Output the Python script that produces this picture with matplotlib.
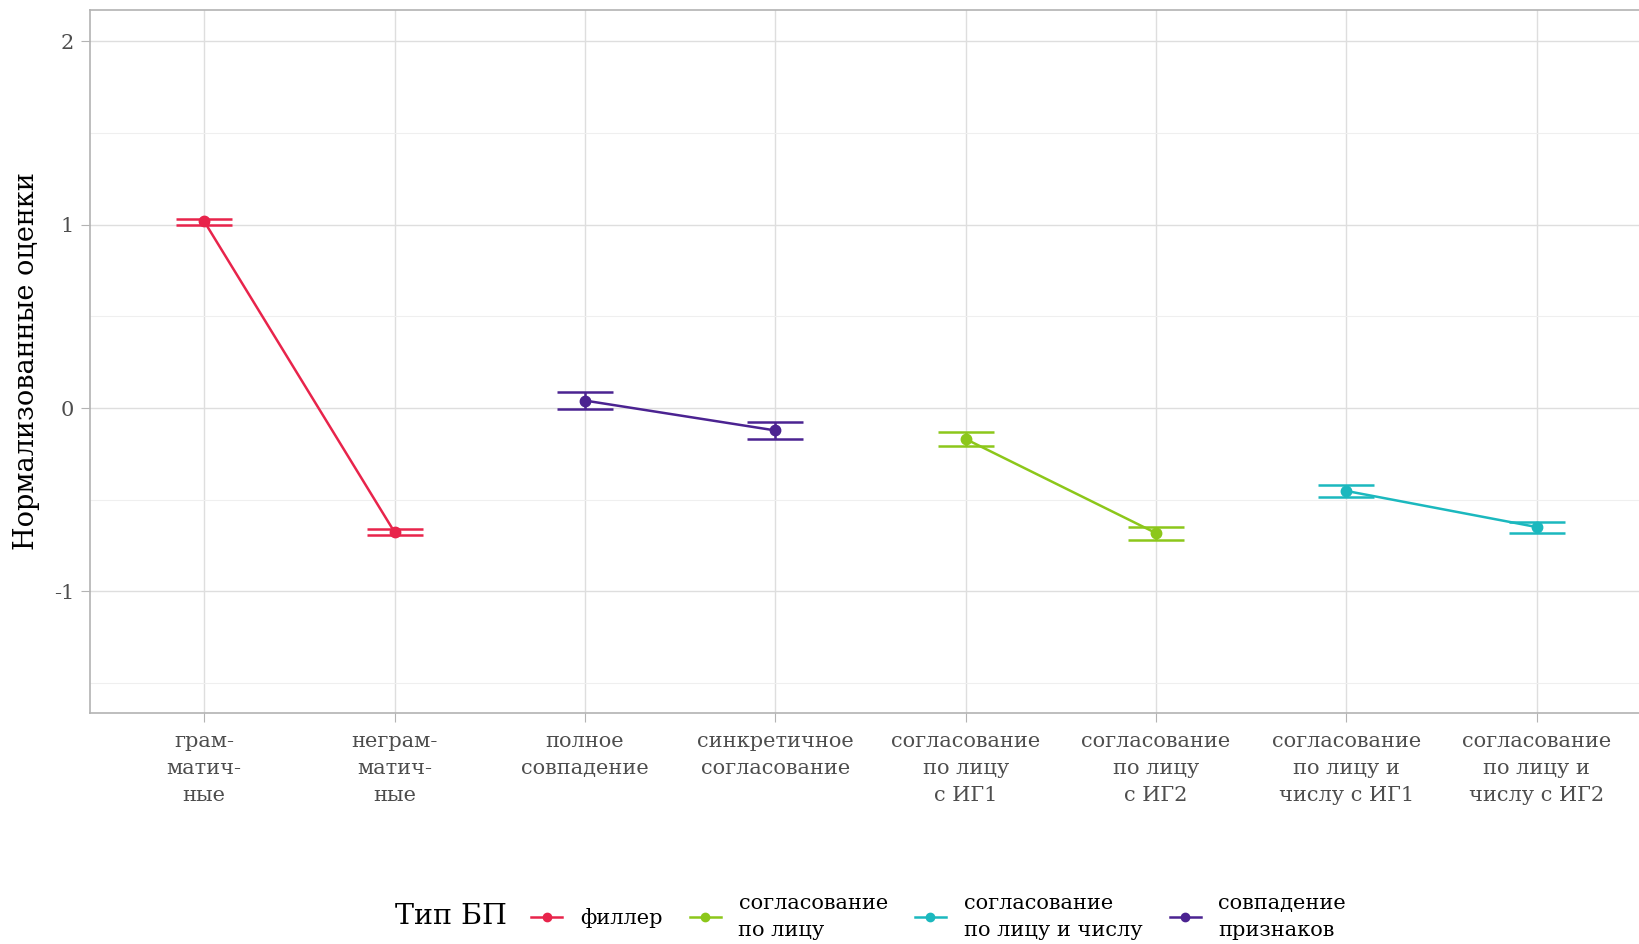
import matplotlib
matplotlib.use('Agg')
import matplotlib.pyplot as plt
from matplotlib.lines import Line2D
from matplotlib.ticker import FixedLocator

# ---- data ----
categories = ['грам-\nматич-\nные', 'неграм-\nматич-\nные', 'полное\nсовпадение',
              'синкретичное\nсогласование', 'согласование\nпо лицу\nс ИГ1',
              'согласование\nпо лицу\nс ИГ2', 'согласование\nпо лицу и\nчислу с ИГ1',
              'согласование\nпо лицу и\nчислу с ИГ2']
means = [1.018, -0.677, 0.041, -0.122, -0.169, -0.682, -0.452, -0.649]
lower = [1.000, -0.693, -0.004, -0.167, -0.209, -0.717, -0.485, -0.682]
upper = [1.033, -0.662, 0.090, -0.076, -0.128, -0.649, -0.418, -0.619]
group_idx = [0, 0, 3, 3, 1, 1, 2, 2]
group_names = ['филлер', 'согласование\nпо лицу', 'согласование\nпо лицу и числу',
               'совпадение\nпризнаков']
group_colors = ['#E8244B', '#8CC71A', '#1BB8BE', '#4B2391']
yticks = [-1, 0, 1, 2]
legend_title = 'Тип БП'
ylabel = 'Нормализованные оценки'

plt.rcParams['font.family'] = ['DejaVu Serif']

fig = plt.figure(figsize=(16.39, 9.44), dpi=100)
ax = fig.add_axes([90/1639, 1-713/944, (1651-90)/1639, (713-10)/944])

xs = list(range(1, len(categories)+1))
for g, col in enumerate(group_colors):
    idx = [i for i in range(len(xs)) if group_idx[i] == g]
    gx = [xs[i] for i in idx]
    gm = [means[i] for i in idx]
    ax.plot(gx, gm, color=col, lw=1.8, zorder=3)
    ax.errorbar(gx, gm, yerr=[[means[i]-lower[i] for i in idx], [upper[i]-means[i] for i in idx]],
                fmt='o', color=col, ms=7.5, elinewidth=1.8, capsize=20.5, capthick=1.8, zorder=4)

ax.set_xlim(0.4, 8.6)
ax.set_ylim(-1.663, 2.171)
ax.yaxis.set_major_locator(FixedLocator(yticks))
ax.yaxis.set_minor_locator(FixedLocator([-1.5, -0.5, 0.5, 1.5]))
ax.set_xticks(xs)
ax.set_xticklabels(categories, fontsize=15, color='#4D4D4D', linespacing=1.55)
ax.set_yticklabels([str(t) for t in yticks], fontsize=15, color='#4D4D4D')
ax.tick_params(axis='x', which='major', pad=7)
ax.tick_params(axis='y', which='major', pad=5)
ax.tick_params(axis='both', which='major', length=6.5, width=0.8, color='#B3B3B3')
ax.tick_params(axis='y', which='minor', length=0)
ax.grid(True, which='major', color='#DEDEDE', lw=1.0)
ax.grid(True, which='minor', axis='y', color='#EFEFEF', lw=0.8)
ax.set_axisbelow(True)
for s in ax.spines.values():
    s.set_color('#B3B3B3')
    s.set_linewidth(1.2)
ax.set_ylabel(ylabel, fontsize=19.5, labelpad=10)

handles = [Line2D([0], [0], color=c, lw=1.8, marker='o', ms=6) for c in group_colors]
fig.text(395/1639, 1-917/944, legend_title, fontsize=20.5, ha='left', va='center')
leg = fig.legend(handles, group_names, loc='center left', bbox_to_anchor=(531/1639, 1-917/944),
                 ncol=4, frameon=False, fontsize=15, handlelength=1.5, handletextpad=0.85,
                 columnspacing=1.3, borderaxespad=0, borderpad=0, labelspacing=0.2)
for t in leg.get_texts():
    t.set_linespacing(1.55)

fig.savefig('out.png', dpi=100)
